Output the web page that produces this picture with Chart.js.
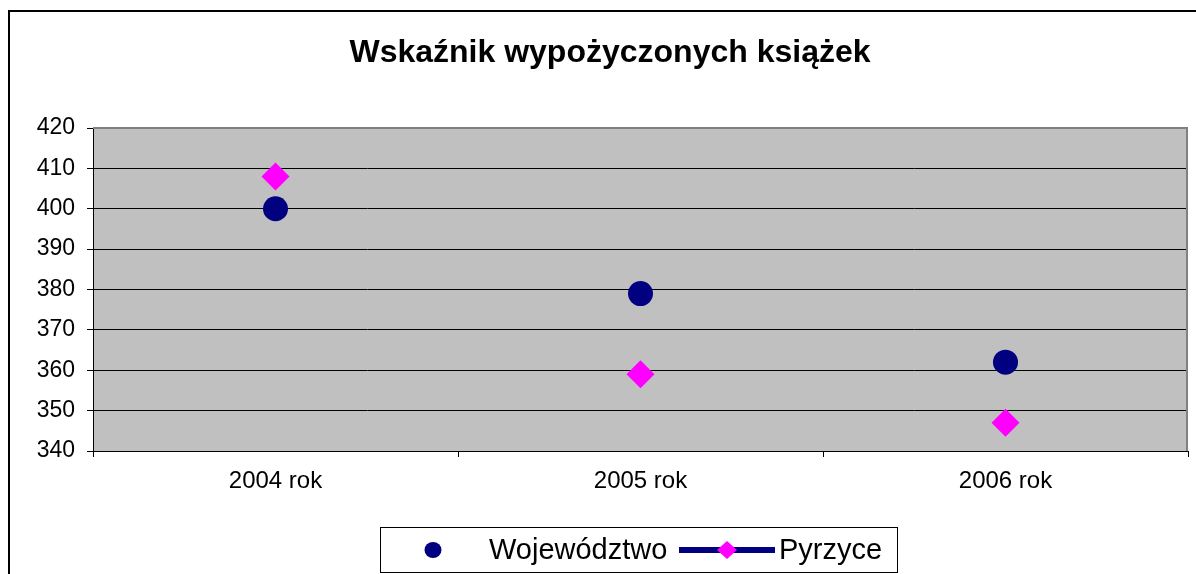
<!DOCTYPE html>
<html lang="pl">
<head>
<meta charset="utf-8">
<title>Wskaźnik wypożyczonych książek</title>
<script src="https://cdn.jsdelivr.net/npm/chart.js@4/dist/chart.umd.min.js"></script>
<style>
    body { margin: 0; background: #fff; }
    canvas { display: block; }
</style>
</head>
<body>
<canvas id="wykres" width="1196" height="574"></canvas>
<script>
const tytul = 'Wskaźnik wypożyczonych książek'
const lata = ['2004 rok', '2005 rok', '2006 rok']
const wojewodztwo = [400, 379, 362]
const pyrzyce = [408, 359, 347]
const osY = { min: 340, max: 420, krok: 10 }

const FONT = '"Liberation Sans", Arial, sans-serif'
const GRANAT = '#000080'
const ROZ = '#FF00FF'

const ctx = document.getElementById('wykres')

// tlo, ramka wykresu, szary obszar
const tlo = {
    id: 'tlo',
    beforeDraw(chart) {
        const c = chart.ctx
        const a = chart.chartArea
        c.save()
        c.fillStyle = '#fff'
        c.fillRect(0, 0, chart.width, chart.height)
        c.strokeStyle = '#000'
        c.lineWidth = 2
        c.beginPath()
        c.moveTo(9, chart.height + 5)
        c.lineTo(9, 11)
        c.lineTo(chart.width + 5, 11)
        c.stroke()
        c.fillStyle = '#C0C0C0'
        c.fillRect(a.left, a.top, a.right - a.left, a.bottom - a.top)
        c.restore()
    },
    beforeDatasetsDraw(chart) {
        const c = chart.ctx
        const a = chart.chartArea
        c.save()
        c.strokeStyle = '#808080'
        c.lineWidth = 2
        c.beginPath()
        c.moveTo(a.left, a.top)
        c.lineTo(a.right - 1, a.top)
        c.lineTo(a.right - 1, a.bottom)
        c.stroke()
        c.restore()
    }
}

// tytul i legenda w ramce
const opis = {
    id: 'opis',
    afterDraw(chart) {
        const c = chart.ctx
        const ds = chart.data.datasets
        c.save()
        c.fillStyle = '#000'
        c.font = 'bold 32px ' + FONT
        c.textAlign = 'center'
        c.textBaseline = 'alphabetic'
        c.fillText(tytul, 610, 62)

        c.strokeStyle = '#000'
        c.lineWidth = 1
        c.strokeRect(380.5, 527.5, 517, 45)

        const y = 550
        c.fillStyle = ds[0].backgroundColor
        c.beginPath()
        c.ellipse(433, y, 8.5, 8, 0, 0, Math.PI * 2)
        c.fill()

        c.strokeStyle = GRANAT
        c.lineWidth = 6
        c.beginPath()
        c.moveTo(679, y)
        c.lineTo(775, y)
        c.stroke()
        c.fillStyle = ds[1].backgroundColor
        c.beginPath()
        c.moveTo(717, y)
        c.lineTo(727, y - 9)
        c.lineTo(737, y)
        c.lineTo(727, y + 9)
        c.closePath()
        c.fill()

        c.fillStyle = '#000'
        c.font = '29px ' + FONT
        c.textAlign = 'left'
        c.textBaseline = 'middle'
        c.fillText(ds[0].label, 489, y + 1)
        c.fillText(ds[1].label, 779, y + 1)
        c.restore()
    }
}

const wykres = new Chart(ctx, {
    type: 'line',
    data: {
        labels: lata,
        datasets: [{
            label: 'Województwo',
            data: wojewodztwo,
            showLine: false,
            pointStyle: 'circle',
            pointRadius: 12.5,
            pointBorderWidth: 0,
            backgroundColor: GRANAT,
            borderColor: GRANAT
        }, {
            label: 'Pyrzyce',
            data: pyrzyce,
            showLine: false,
            pointStyle: 'rectRot',
            pointRadius: 14,
            pointBorderWidth: 0,
            backgroundColor: ROZ,
            borderColor: ROZ
        }]
    },
    options: {
        responsive: false,
        animation: false,
        layout: {
            autoPadding: false,
            padding: { left: 0, right: 8, top: 128, bottom: 0 }
        },
        plugins: {
            legend: { display: false },
            title: { display: false },
            tooltip: { enabled: false }
        },
        scales: {
            x: {
                offset: true,
                afterFit(scale) {
                    scale.height = 123
                    scale.paddingLeft = 0
                    scale.paddingRight = 0
                },
                grid: {
                    offset: true,
                    drawOnChartArea: false,
                    tickLength: 6,
                    color: '#000'
                },
                border: { color: '#000', width: 1 },
                ticks: {
                    color: '#000',
                    padding: 10,
                    font: { family: FONT, size: 24 }
                }
            },
            y: {
                min: osY.min,
                max: osY.max,
                afterFit(scale) { scale.width = 93 },
                grid: {
                    tickLength: 6,
                    color: c => c.tick && c.tick.value === osY.max ? '#808080' : '#000',
                    tickColor: '#000'
                },
                border: { color: '#000', width: 1 },
                ticks: {
                    stepSize: osY.krok,
                    color: '#000',
                    padding: 12,
                    font: { family: FONT, size: 23 }
                }
            }
        }
    },
    plugins: [tlo, opis]
})
</script>
</body>
</html>
